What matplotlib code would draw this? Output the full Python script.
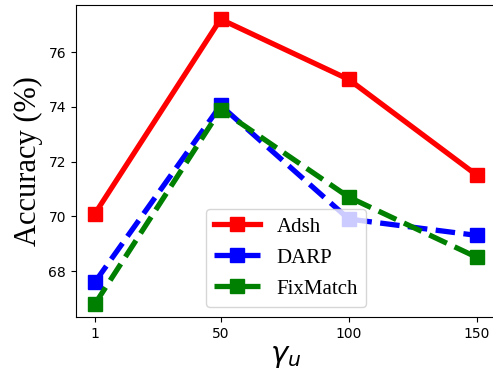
import matplotlib
matplotlib.use("Agg")
import matplotlib.pyplot as plt

x_vals = [1, 50, 100, 150]
x_labels = ["1", "50", "100", "150"]
adsh = [70.1, 77.2, 75.0, 71.5]
darp = [67.6, 74.05, 69.9, 69.3]
fixmatch = [66.8, 73.9, 70.7, 68.5]

fig = plt.figure(figsize=(4.93, 3.71), dpi=100)
ax = fig.add_axes([0.154, 0.1456, 0.852, 0.841])

ax.plot(x_vals, adsh, color="red", linestyle="-", marker="s", linewidth=3.8, markersize=10, label="Adsh")
ax.plot(x_vals, darp, color="blue", linestyle="--", marker="s", linewidth=3.8, markersize=10, label="DARP")
ax.plot(x_vals, fixmatch, color="green", linestyle="--", marker="s", linewidth=3.8, markersize=10, label="FixMatch")

ax.set_xticks(x_vals)
ax.set_xticklabels(x_labels)
ax.set_yticks([68, 70, 72, 74, 76])
ax.set_ylim(66.32, 77.72)
ax.tick_params(labelsize=10)

ax.set_ylabel("Accuracy (%)", family="Liberation Serif", fontsize=22)
ax.set_xlabel(r"$\gamma_u$", fontsize=21, labelpad=1)

ax.legend(loc="lower center", bbox_to_anchor=(0.5, 0.032), borderaxespad=0,
          prop={"family": "Liberation Serif", "size": 15},
          handlelength=2.2, labelspacing=0.55)

fig.savefig("out.png", dpi=100)
